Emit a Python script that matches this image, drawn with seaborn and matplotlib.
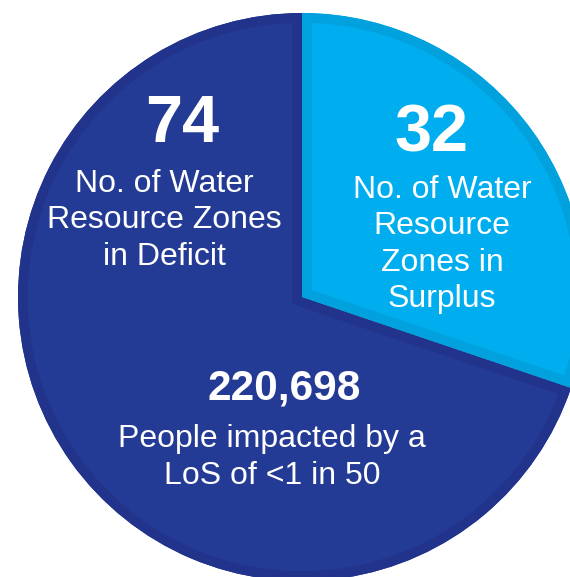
import matplotlib
matplotlib.use("Agg")
import matplotlib.pyplot as plt
from matplotlib.patches import Wedge
import seaborn as sns

# data
zones = ["Deficit", "Surplus"]
zone_counts = [74, 32]
fill_colors = ["#243b95", "#00aeef"]
edge_colors = ["#21338a", "#00a1dc"]
people_impacted = "220,698"

deficit_lines = ["No. of Water", "Resource Zones", "in Deficit"]
surplus_lines = ["No. of Water", "Resource", "Zones in", "Surplus"]
people_lines = ["People impacted by a", "LoS of <1 in 50"]

sns.set_theme(style="white")
plt.rcParams["font.family"] = ["Liberation Sans", "DejaVu Sans"]

W, H = 570, 577
fig = plt.figure(figsize=(W / 100, H / 100), dpi=100)
ax = fig.add_axes([0, 0, 1, 1])

wedges, _ = ax.pie(zone_counts, startangle=90, counterclock=True,
                   colors=fill_colors, radius=284, center=(302, H - 297),
                   frame=False, wedgeprops=dict(linewidth=0))
ax.set_xlim(0, W)
ax.set_ylim(0, H)
ax.set_aspect("equal")
ax.axis("off")

# inner border: stroke a copy of each wedge, clipped to the wedge itself
for w, ec in zip(wedges, edge_colors):
    rim = Wedge(w.center, w.r, w.theta1, w.theta2, facecolor="none",
                edgecolor=ec, linewidth=14)
    ax.add_patch(rim)
    rim.set_clip_path(w.get_path(), w.get_transform())


def py(y):
    return H - y


# deficit label
ax.text(182, py(142), str(zone_counts[0]), color="white", fontsize=48,
        fontweight="bold", ha="center", va="baseline")
for i, line in enumerate(deficit_lines):
    ax.text(164, py(192 + i * 36.5), line, color="white", fontsize=23,
            ha="center", va="baseline")

# surplus label
ax.text(432, py(152), str(zone_counts[1]), color="white", fontsize=48,
        fontweight="bold", ha="center", va="baseline")
for i, line in enumerate(surplus_lines):
    ax.text(442, py(198 + i * 36.5), line, color="white", fontsize=23,
            ha="center", va="baseline")

# people impacted
ax.text(284, py(400), people_impacted, color="white", fontsize=30.5,
        fontweight="bold", ha="center", va="baseline")
for i, line in enumerate(people_lines):
    ax.text(272, py(447 + i * 36.5), line, color="white", fontsize=23,
            ha="center", va="baseline")

plt.savefig("out.png", dpi=100)
